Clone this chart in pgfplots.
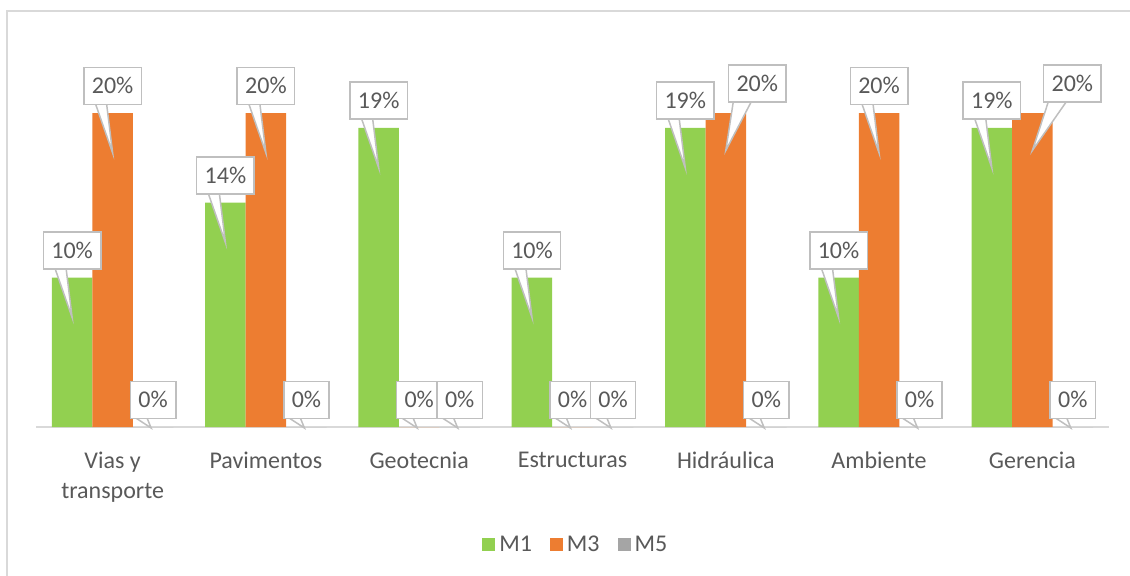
\documentclass[border=0pt]{standalone}
\usepackage{fontspec}
\setmainfont{Carlito}
\usepackage{pgfplots}
\usepackage{pgfplotstable}
\pgfplotsset{compat=1.18}
\definecolor{cgreen}{RGB}{146,208,80}
\definecolor{corange}{RGB}{237,125,49}
\definecolor{cgray}{RGB}{165,165,165}
\definecolor{txt}{RGB}{89,89,89}
\definecolor{framec}{RGB}{217,217,217}
\definecolor{cborder}{RGB}{191,191,191}
\pgfplotsset{sqlegend/.style={legend image code/.code={\fill[##1] (0pt,-3.25pt) rectangle (6.5pt,3.25pt);}}}
% columns: category index, value, label x offset (pt)
\pgfplotstableread{
x y dx
0 0.0952 0
1 0.1429 0
2 0.1905 0
3 0.0952 0
4 0.1905 0
5 0.0952 0
6 0.1905 0
}\tblMone
\pgfplotstableread{
x y dx
0 0.2 0
1 0.2 0
2 0 0
3 0 0
4 0.2 15.75
5 0.2 0
6 0.2 20
}\tblMthree
\pgfplotstableread{
x y dx
0 0 0
1 0 0
2 0 0
3 0 0
4 0 0
5 0 0
6 0 0
}\tblMfive
\begin{document}
\begin{tikzpicture}
\useasboundingbox (0,0) rectangle (565pt,287.5pt);
\draw[framec, line width=0.75pt] (3.5pt,-10pt) -- (3.5pt,282pt) -- (580pt,282pt);
\begin{axis}[
  at={(18pt,74pt)}, anchor=south west,
  scale only axis, width=536.5pt, height=196.25pt,
  ybar=0pt, bar width=20.25pt,
  xmin=-0.5, xmax=6.5, ymin=0, ymax=0.25,
  axis y line=none, axis x line*=bottom,
  x axis line style={framec, line width=0.75pt, -},
  xtick=data, major tick length=0pt,
  xticklabels={{Vias y\\transporte},Pavimentos,Geotecnia,Estructuras,Hidráulica,Ambiente,Gerencia},
  xticklabel style={align=center, font=\fontsize{12pt}{15pt}\selectfont, text=txt, yshift=-9pt},
  /pgf/number format/assume math mode=true,
  clip=false,
  point meta={y*100},
  visualization depends on={y \as \rawy},
  visualization depends on={\thisrow{dx} \as \dx},
  nodes near coords={\pgfmathprintnumber[fixed,precision=0]{\pgfplotspointmeta}\%},
  every node near coord/.append style={rectangle, draw=cborder, line width=0.75pt,
    fill=white, text=txt, font=\fontsize{12pt}{14pt}\selectfont,
    inner xsep=4pt, inner ysep=0pt, minimum height=18.5pt, anchor=south,
    xshift={\dx*1pt}, yshift={ifthenelse(\dx>0,5.25,4)*1pt},
    append after command={\pgfextra{%
      \filldraw[draw=cborder, fill=white, line width=0.75pt, line join=miter]
      ([xshift={ifthenelse(\dx>0,-12,-8.5)*1pt}, yshift=0.4pt]\tikzlastnode.south)
      -- ([xshift={(ifthenelse(\rawy>0.001,0,-1)-\dx)*1pt}, yshift={ifthenelse(\rawy>0.001,-24,-4.5)*1pt}]\tikzlastnode.south)
      -- ([xshift=-3pt, yshift=0.4pt]\tikzlastnode.south);}}},
  legend style={at={(0.504,-0.3006)}, anchor=center, legend columns=3, draw=none,
    font=\fontsize{12pt}{14pt}\selectfont, text=txt,
    /tikz/every even column/.append style={column sep=7pt}},
]
\addplot[fill=cgreen, draw=none, sqlegend] table[x=x, y=y] {\tblMone};
\addplot[fill=corange, draw=none, sqlegend] table[x=x, y=y] {\tblMthree};
\addplot[fill=cgray, draw=none, sqlegend] table[x=x, y=y] {\tblMfive};
\legend{M1,M3,M5}
\end{axis}
\end{tikzpicture}
\end{document}
